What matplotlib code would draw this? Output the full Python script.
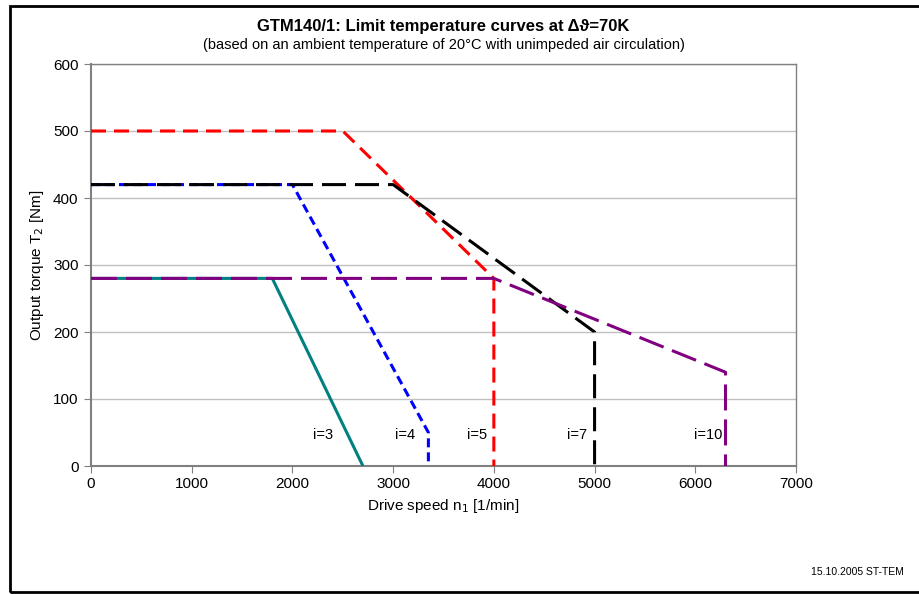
import matplotlib
matplotlib.use("Agg")
import matplotlib.pyplot as plt
from matplotlib.patches import Rectangle

plt.rcParams['font.family'] = ['Liberation Sans', 'DejaVu Sans']

# Data (drive speed n1 [1/min], output torque T2 [Nm])
i3_x = [0, 1800, 2700]
i3_y = [280, 280, 0]
i4_x = [0, 2000, 3350, 3350]
i4_y = [420, 420, 50, 0]
i5_x = [0, 2500, 4000, 4000]
i5_y = [500, 500, 280, 0]
i7_x = [0, 3000, 5000, 5000]
i7_y = [420, 420, 200, 0]
i10_x = [0, 4000, 6300, 6300]
i10_y = [280, 280, 140, 0]

labels = ["i=3", "i=4", "i=5", "i=7", "i=10"]
label_x = [2300, 3120, 3830, 4830, 6130]
label_y = [47, 47, 47, 47, 47]

x_ticks = [0, 1000, 2000, 3000, 4000, 5000, 6000, 7000]
y_ticks = [0, 100, 200, 300, 400, 500, 600]

W, H = 920, 594
fig = plt.figure(figsize=(W / 100, H / 100), dpi=100)
ax = fig.add_axes([91 / W, 1 - 466 / H, (796 - 91) / W, (466 - 64) / H])

lw = 2.2
def dash(on_px, off_px):
    return (0, (on_px * 0.72 / lw, off_px * 0.72 / lw))

ax.plot(i3_x, i3_y, color="#008080", lw=lw, solid_capstyle="butt", zorder=3)
ax.plot(i4_x, i4_y, color="#0000FF", lw=lw, linestyle=dash(9, 5), zorder=4)
ax.plot(i5_x, i5_y, color="#FF0000", lw=lw, linestyle=dash(15, 8), zorder=5)
ax.plot(i7_x, i7_y, color="#000000", lw=lw, linestyle=dash(24, 9), zorder=6)
ax.plot(i10_x, i10_y, color="#800080", lw=lw, linestyle=dash(26, 9), zorder=7)

for t, x, y in zip(labels, label_x, label_y):
    ax.text(x, y, t, fontsize=10.5, ha="center", va="center", zorder=8)

ax.set_xlim(0, 7000)
ax.set_ylim(0, 600)
ax.set_xticks(x_ticks)
ax.set_yticks(y_ticks)
ax.yaxis.grid(True, color="#c0c0c0", lw=1)
ax.set_axisbelow(True)
for s in ax.spines.values():
    s.set_color("#808080")
    s.set_linewidth(1)
ax.spines["left"].set_linewidth(1.5)
ax.spines["bottom"].set_linewidth(1.5)
ax.tick_params(axis="both", direction="out", length=5, color="#808080",
               labelsize=11)
ax.tick_params(axis="x", pad=3)
ax.tick_params(axis="y", pad=4)

ax.set_xlabel("Drive speed n$_1$ [1/min]", fontsize=11, labelpad=4)
ax.set_ylabel("Output torque T$_2$ [Nm]", fontsize=11, labelpad=5)

fig.text(443.5 / W, 1 - 27 / H, "GTM140/1: Limit temperature curves at Δϑ=70K",
         fontsize=12, fontweight="bold", ha="center", va="center")
fig.text(443.5 / W, 1 - 45 / H,
         "(based on an ambient temperature of 20°C with unimpeded air circulation)",
         fontsize=10.5, ha="center", va="center")
fig.text(904 / W, 1 - 572 / H, "15.10.2005 ST-TEM", fontsize=7.5,
         ha="right", va="center")

fig.patches.append(Rectangle((10.5 / W, 1 - 592 / H), 1.2, (592 - 5.5) / H,
                             transform=fig.transFigure, fill=False,
                             edgecolor="black", lw=2, clip_on=False))

fig.savefig("out.png", dpi=100)
